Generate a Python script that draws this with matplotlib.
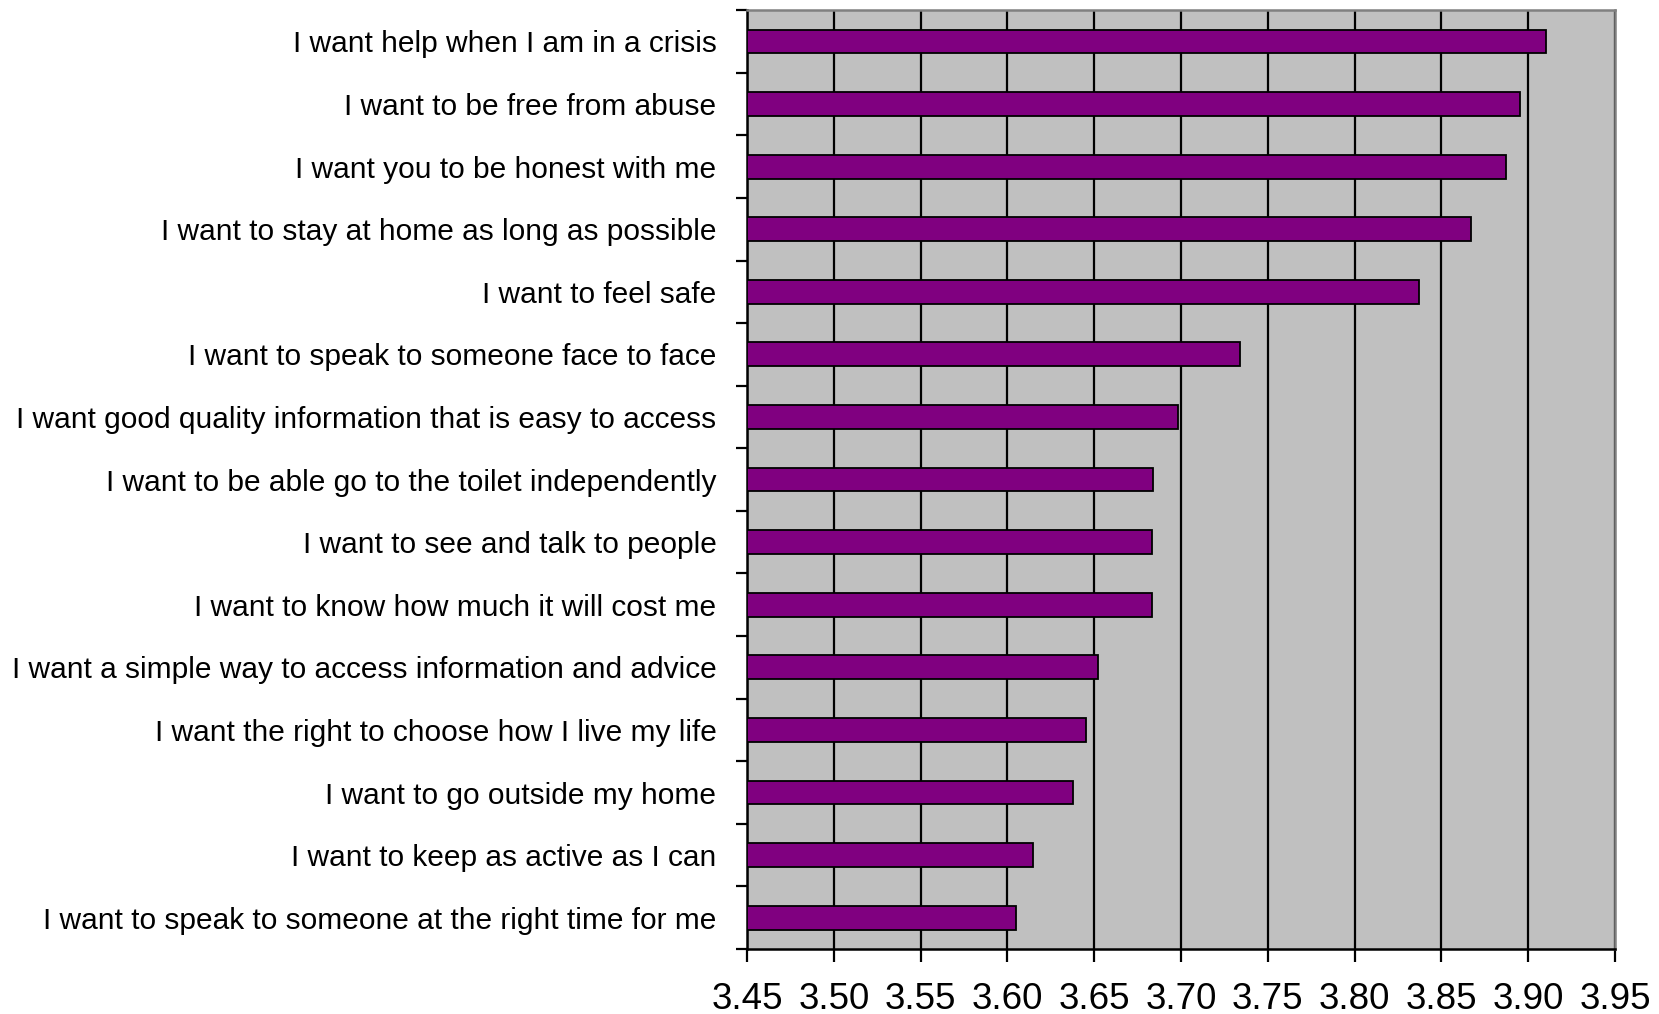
import matplotlib
matplotlib.use("Agg")
from matplotlib import pyplot as plt
from matplotlib.ticker import FixedLocator, NullFormatter
import numpy as np

plt.rcParams['font.family'] = ['Liberation Sans', 'DejaVu Sans']

# statements, top to bottom as shown
statements = [
    'I want help when I am in a crisis',
    'I want to be free from abuse',
    'I want you to be honest with me',
    'I want to stay at home as long as possible',
    'I want to feel safe',
    'I want to speak to someone face to face',
    'I want good quality information that is easy to access',
    'I want to be able go to the toilet independently',
    'I want to see and talk to people',
    'I want to know how much it will cost me',
    'I want a simple way to access information and advice',
    'I want the right to choose how I live my life',
    'I want to go outside my home',
    'I want to keep as active as I can',
    'I want to speak to someone at the right time for me',
]
scores = [3.910, 3.895, 3.887, 3.867, 3.837, 3.734, 3.698, 3.684,
          3.683, 3.683, 3.652, 3.645, 3.638, 3.615, 3.605]
x_ticks = [3.45, 3.50, 3.55, 3.60, 3.65, 3.70, 3.75, 3.80, 3.85, 3.90, 3.95]

fig = plt.figure(figsize=(16.59, 10.14), dpi=100)
ax = fig.add_axes([0.4503, 0.0641, 0.9735 - 0.4503, 0.990 - 0.0641])

pos = np.arange(len(statements))
x0 = x_ticks[0]
ax.barh(pos, np.array(scores) - x0, left=x0, height=0.38,
        color='#800080', edgecolor='black', linewidth=1.3, zorder=3)

ax.set_facecolor('#C0C0C0')
ax.set_xlim(x_ticks[0], x_ticks[-1])
ax.set_ylim(len(statements) - 0.5, -0.5)

ax.set_xticks(x_ticks)
ax.set_xticklabels(['%.2f' % v for v in x_ticks], fontsize=26.5)
ax.tick_params(axis='x', direction='out', length=9, width=1.6, pad=15)

# y: tick marks between rows, labels centred on rows
ax.yaxis.set_major_locator(FixedLocator(np.arange(len(statements) + 1) - 0.5))
ax.yaxis.set_major_formatter(NullFormatter())
ax.yaxis.set_minor_locator(FixedLocator(pos))
ax.set_yticklabels(statements, minor=True, fontsize=21.5)
ax.tick_params(axis='y', which='major', direction='out', length=8, width=1.6)
ax.tick_params(axis='y', which='minor', length=0, pad=22)

ax.set_axisbelow(True)
ax.grid(axis='x', color='black', linewidth=1.6)
ax.grid(axis='y', visible=False)

ax.spines['left'].set_color('black')
ax.spines['bottom'].set_color('black')
ax.spines['left'].set_linewidth(1.8)
ax.spines['bottom'].set_linewidth(1.8)
ax.spines['top'].set_color('#808080')
ax.spines['right'].set_color('#808080')
ax.spines['top'].set_linewidth(1.8)
ax.spines['right'].set_linewidth(1.8)

fig.savefig('out.png', dpi=100)
